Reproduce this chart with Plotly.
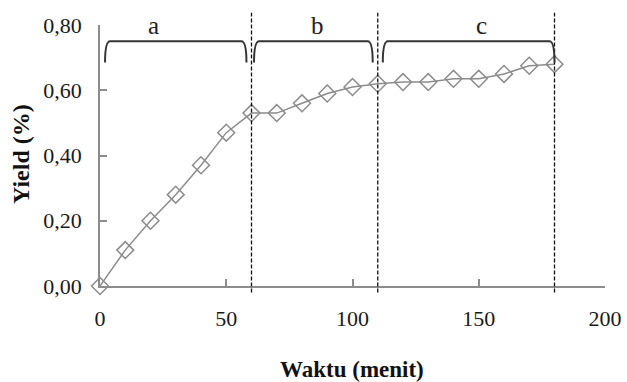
import plotly.graph_objects as go

waktu = [0, 10, 20, 30, 40, 50, 60, 70, 80, 90, 100, 110, 120, 130, 140, 150, 160, 170, 180]
yield_pct = [0.00, 0.11, 0.20, 0.28, 0.37, 0.47, 0.53, 0.53, 0.56, 0.59, 0.61, 0.62, 0.625, 0.625, 0.635, 0.635, 0.65, 0.675, 0.68]

x_ticks = [0, 50, 100, 150, 200]
x_tick_text = ["0", "50", "100", "150", "200"]
y_ticks = [0.0, 0.2, 0.4, 0.6, 0.8]
y_tick_text = ["0,00", "0,20", "0,40", "0,60", "0,80"]

phase_bounds = [60, 110, 180]
brace_labels = ["a", "b", "c"]
brace_start = [2, 61, 112]
brace_end = [58, 108, 180]
brace_top = 0.75
brace_bottom = 0.685
label_x = [21, 86, 151]
label_y = 0.80

FONT = "Liberation Serif"

W, H = 627, 382
ml, mr, mt, mb = 100, 22, 25, 96
pw, ph = W - ml - mr, H - mt - mb

fig = go.Figure()
fig.add_trace(go.Scatter(
    x=waktu, y=yield_pct, mode="lines+markers",
    line=dict(color="#8c8c8c", width=1.5),
    marker=dict(symbol="diamond-open", size=13, color="#8c8c8c", line=dict(width=1.5)),
    cliponaxis=False, showlegend=False,
))

shapes = []
for xv in phase_bounds:
    shapes.append(dict(type="line", xref="x", yref="paper", x0=xv, x1=xv, y0=-0.025, y1=1.047,
                       line=dict(color="#111111", width=1.3, dash="4px,2px")))
for s, e in zip(brace_start, brace_end):
    path = (f"M {s},{brace_bottom} Q {s},{brace_top} {s+2},{brace_top} "
            f"L {e-2},{brace_top} Q {e},{brace_top} {e},{brace_bottom}")
    shapes.append(dict(type="path", xref="x", yref="y", path=path,
                       line=dict(color="#333333", width=2)))

annotations = []
for lbl, lx in zip(brace_labels, label_x):
    annotations.append(dict(x=lx, y=label_y, xref="x", yref="y", text=lbl, showarrow=False,
                            font=dict(family=FONT, size=25, color="#222222")))
annotations.append(dict(x=(352 - ml) / pw, y=(H - mb - 369) / ph, xref="paper", yref="paper",
                        xanchor="center", yanchor="middle",
                        text="<b>Waktu (menit)</b>", showarrow=False,
                        font=dict(family=FONT, size=23, color="#111111")))
annotations.append(dict(x=(21 - ml) / pw, y=(H - mb - 154) / ph, xref="paper", yref="paper",
                        xanchor="center", yanchor="middle",
                        text="<b>Yield (%)</b>", textangle=-90, showarrow=False,
                        font=dict(family=FONT, size=24, color="#111111")))

fig.update_layout(
    width=W, height=H,
    margin=dict(l=ml, r=mr, t=mt, b=mb, autoexpand=False),
    paper_bgcolor="white", plot_bgcolor="white",
    shapes=shapes, annotations=annotations,
    font=dict(family=FONT, color="#1a1a1a"),
)
fig.update_xaxes(range=[0, 200], tickvals=x_ticks, ticktext=x_tick_text, automargin=False,
                 showgrid=False, zeroline=False, showline=True, linecolor="#8c8c8c", linewidth=1.5,
                 ticks="inside", ticklen=7, tickcolor="#8c8c8c", tickwidth=1.5,
                 tickfont=dict(family=FONT, size=22, color="#1a1a1a"), ticklabelstandoff=12)
fig.update_yaxes(range=[0, 0.8], tickvals=y_ticks, ticktext=y_tick_text, automargin=False,
                 showgrid=False, zeroline=False, showline=True, linecolor="#8c8c8c", linewidth=1.5,
                 ticks="inside", ticklen=7, tickcolor="#8c8c8c", tickwidth=1.5,
                 tickfont=dict(family=FONT, size=22, color="#1a1a1a"), ticklabelstandoff=12)

fig.write_html("out.html")
